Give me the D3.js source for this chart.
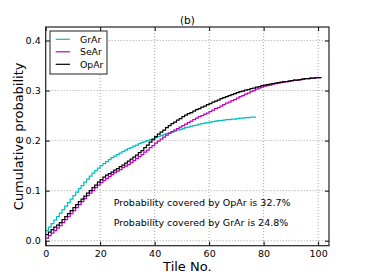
<!DOCTYPE html>
<html>
<head>
<meta charset="utf-8">
<script src="https://cdn.jsdelivr.net/npm/d3@7"></script>
<style>
  body { margin: 0; background: #fff; }
  svg { font-family: "DejaVu Sans", sans-serif; }
</style>
</head>
<body>
<div id="chart"></div>
<script>
// cumulative probability per tile
const opAr = [
  0.012, 0.017, 0.022, 0.027, 0.031, 0.036, 0.042, 0.048, 0.054, 0.060,
  0.066, 0.072, 0.078, 0.083, 0.089, 0.095, 0.100, 0.106, 0.111, 0.117,
  0.122, 0.127, 0.131, 0.134, 0.137, 0.141, 0.144, 0.148, 0.151, 0.155,
  0.159, 0.163, 0.167, 0.171, 0.176, 0.180, 0.186, 0.191, 0.197, 0.202,
  0.208, 0.213, 0.217, 0.221, 0.226, 0.230, 0.234, 0.237, 0.241, 0.244,
  0.248, 0.251, 0.254, 0.256, 0.259, 0.262, 0.264, 0.267, 0.269, 0.272,
  0.274, 0.277, 0.279, 0.281, 0.284, 0.286, 0.288, 0.290, 0.292, 0.294,
  0.296, 0.298, 0.299, 0.301, 0.302, 0.304, 0.305, 0.307, 0.308, 0.310,
  0.311, 0.312, 0.313, 0.314, 0.315, 0.316, 0.317, 0.318, 0.318, 0.319,
  0.320, 0.321, 0.321, 0.322, 0.323, 0.324, 0.324, 0.325, 0.325, 0.326,
  0.326, 0.327
]
const seAr = [
  0.005, 0.010, 0.015, 0.020, 0.025, 0.030, 0.036, 0.042, 0.048, 0.054,
  0.060, 0.066, 0.072, 0.078, 0.084, 0.090, 0.095, 0.100, 0.106, 0.111,
  0.116, 0.120, 0.124, 0.128, 0.132, 0.136, 0.139, 0.142, 0.146, 0.149,
  0.152, 0.156, 0.160, 0.164, 0.168, 0.172, 0.177, 0.181, 0.186, 0.190,
  0.195, 0.199, 0.203, 0.207, 0.211, 0.215, 0.218, 0.221, 0.224, 0.227,
  0.230, 0.233, 0.236, 0.239, 0.242, 0.245, 0.248, 0.250, 0.253, 0.255,
  0.258, 0.261, 0.264, 0.266, 0.269, 0.272, 0.275, 0.277, 0.280, 0.282,
  0.285, 0.288, 0.290, 0.293, 0.295, 0.298, 0.300, 0.303, 0.305, 0.307,
  0.309, 0.310, 0.311, 0.313, 0.314, 0.315, 0.316, 0.317, 0.318, 0.319,
  0.320, 0.321, 0.321, 0.322, 0.323, 0.324, 0.324, 0.325, 0.325, 0.326,
  0.326, 0.327
]
const grAr = [
  0.020, 0.027, 0.034, 0.041, 0.048, 0.055, 0.062, 0.069, 0.076, 0.083,
  0.090, 0.097, 0.104, 0.110, 0.117, 0.123, 0.129, 0.135, 0.140, 0.145,
  0.150, 0.154, 0.158, 0.162, 0.166, 0.169, 0.172, 0.175, 0.178, 0.181,
  0.184, 0.186, 0.189, 0.191, 0.194, 0.196, 0.198, 0.200, 0.202, 0.204,
  0.206, 0.208, 0.210, 0.212, 0.214, 0.215, 0.217, 0.219, 0.221, 0.222,
  0.224, 0.226, 0.227, 0.229, 0.230, 0.231, 0.233, 0.234, 0.235, 0.236,
  0.237, 0.238, 0.239, 0.240, 0.240, 0.241, 0.242, 0.242, 0.243, 0.243,
  0.244, 0.245, 0.245, 0.246, 0.246, 0.247, 0.247, 0.248
]

const seriesNames = ['GrAr', 'SeAr', 'OpAr']
const seriesColors = ['#00bfbf', '#bf00bf', '#000000']
const seriesData = [grAr, seAr, opAr]

const xTicks = [0, 20, 40, 60, 80, 100]
const yTicks = [0.0, 0.1, 0.2, 0.3, 0.4]
const notes = [
  {text: 'Probability covered by OpAr is 32.7%', x: 25, y: 0.07},
  {text: 'Probability covered by GrAr is 24.8%', x: 25, y: 0.03}
]

function draw() {
  const width = 366, height = 274
  const m = {left: 45.7, top: 27, right: 329, bottom: 245.7}

  const svg = d3.select('#chart').append('svg')
    .attr('width', width)
    .attr('height', height)

  const xScale = d3.scaleLinear().domain([0, 104]).range([m.left, m.right])
  const yScale = d3.scaleLinear().domain([-0.01, 0.427]).range([m.bottom, m.top])

  // grid
  const grid = svg.append('g')
    .attr('stroke', '#000')
    .attr('stroke-width', 0.5)
    .attr('stroke-dasharray', '1,2')
    .attr('opacity', 0.7)
  grid.selectAll('.gx').data(xTicks).join('line')
    .attr('x1', d => xScale(d)).attr('x2', d => xScale(d))
    .attr('y1', m.top).attr('y2', m.bottom)
  grid.selectAll('.gy').data(yTicks).join('line')
    .attr('y1', d => yScale(d)).attr('y2', d => yScale(d))
    .attr('x1', m.left).attr('x2', m.right)

  // series
  const line = d3.line()
    .x((d, i) => xScale(i))
    .y(d => yScale(d))
    .curve(d3.curveStepAfter)

  seriesData.forEach((s, k) => {
    svg.append('path')
      .datum(s)
      .attr('d', line)
      .attr('fill', 'none')
      .attr('stroke', seriesColors[k])
      .attr('stroke-width', 1.2)
  })

  // axes with inward ticks on all four sides
  const axB = d3.axisBottom(xScale).tickValues(xTicks).tickSize(-4).tickPadding(5).tickFormat(d3.format('d'))
  const axT = d3.axisTop(xScale).tickValues(xTicks).tickSize(-4).tickFormat('')
  const axL = d3.axisLeft(yScale).tickValues(yTicks).tickSize(-4).tickPadding(5).tickFormat(d3.format('.1f'))
  const axR = d3.axisRight(yScale).tickValues(yTicks).tickSize(-4).tickFormat('')

  const styleAxis = g => {
    g.select('.domain').remove()
    g.selectAll('text').attr('font-size', 9.5).attr('fill', '#000')
      .attr('font-family', '"DejaVu Sans", sans-serif')
  }
  svg.append('g').attr('transform', `translate(0,${m.bottom})`).call(axB).call(styleAxis)
  svg.append('g').attr('transform', `translate(0,${m.top})`).call(axT).call(styleAxis)
  svg.append('g').attr('transform', `translate(${m.left},0)`).call(axL).call(styleAxis)
  svg.append('g').attr('transform', `translate(${m.right},0)`).call(axR).call(styleAxis)

  svg.append('rect')
    .attr('x', m.left).attr('y', m.top)
    .attr('width', m.right - m.left).attr('height', m.bottom - m.top)
    .attr('fill', 'none').attr('stroke', '#222').attr('stroke-width', 1.2)

  // titles
  svg.append('text').attr('x', (m.left + m.right) / 2).attr('y', 23.5)
    .attr('text-anchor', 'middle').attr('font-size', 10.5).text('(b)')
  svg.append('text').attr('x', (m.left + m.right) / 2).attr('y', 270.5)
    .attr('text-anchor', 'middle').attr('font-size', 13).text('Tile No.')
  svg.append('text')
    .attr('transform', `translate(23,${(m.top + m.bottom) / 2}) rotate(-90)`)
    .attr('text-anchor', 'middle').attr('font-size', 13).text('Cumulative probability')

  // annotations
  svg.selectAll('.note').data(notes).join('text')
    .attr('x', d => xScale(d.x)).attr('y', d => yScale(d.y))
    .attr('font-size', 9.5).text(d => d.text)

  // legend
  const lg = svg.append('g')
  lg.append('rect').attr('x', 50).attr('y', 31).attr('width', 57).attr('height', 43)
    .attr('fill', '#fff').attr('stroke', '#222').attr('stroke-width', 1)
  seriesNames.forEach((n, k) => {
    const y = 39.3 + k * 12.5
    lg.append('line').attr('x1', 55.7).attr('x2', 70).attr('y1', y).attr('y2', y)
      .attr('stroke', seriesColors[k]).attr('stroke-width', 1.2)
    lg.append('text').attr('x', 80).attr('y', y).attr('dy', '0.35em')
      .attr('font-size', 9.3).text(n)
  })
}

draw()
</script>
</body>
</html>
